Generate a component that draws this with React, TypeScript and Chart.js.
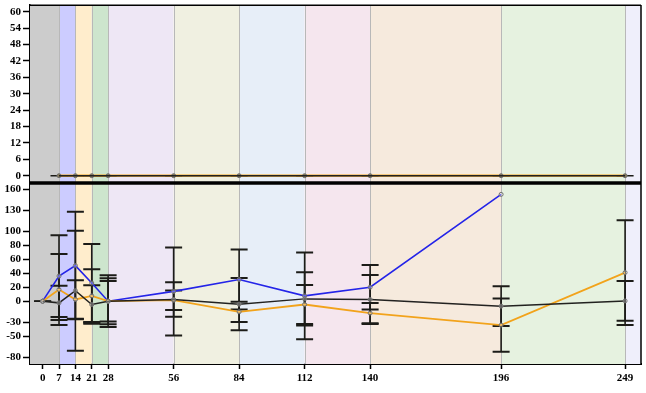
import React, { useEffect, useRef } from "react";
import { Chart, registerables } from "chart.js";

Chart.register(...registerables);

// ---- data ----
const days = [0, 7, 14, 21, 28, 56, 84, 112, 140, 196, 249];
const xTickValues = [0, 7, 14, 21, 28, 56, 84, 112, 140, 196, 249];

const topDays = [7, 14, 21, 28, 56, 84, 112, 140, 196, 249];
const topBlackVals = [0, 0, 0, 0, 0, 0, 0, 0, 0, 0];
const topBlackErr = [0, 0, 0, 0, 0, 0, 0, 0, 0, 0];
const topOrangeVals = [0, 0, 0, 0, 0, 0, 0, 0, 0, 0];

const blueVals = [0, 36, 51, 26, 0, 14, 31, 7.6, 20, 153, null];
const blueErr = [0, 58.5, 77, 56, 37, 63, 43, 62, 32, null, null];
const orangeVals = [0, 16.7, 2.4, 7.6, 0, 1.4, -15.2, -4.8, -17.1, -34.3, 41];
const orangeErr = [0, 51, 27.6, 38, 33, 14, 14.5, 28, 14.5, 38, 75];
const blackVals = [0, -2.4, 15, -4.8, 0, 2.4, -4.3, 3.3, 2.4, -7.1, 0.4];
const blackErr = [0, 24.5, 86, 27.7, 29, 24.7, 37.5, 38, 35, 28.5, 28.5];

const topYTicks = [0, 6, 12, 18, 24, 30, 36, 42, 48, 54, 60];
const bottomYTicks = [-80, -50, -30, 0, 20, 40, 60, 80, 100, 130, 160];

const bandEdges = [7, 14, 21, 28, 56, 84, 112, 140, 196, 249];
const bandColors = [
  "#cccccc",
  "#ccccff",
  "#ffedcc",
  "#cde5cd",
  "#eee7f5",
  "#f0f0e1",
  "#e7eef8",
  "#f5e6ee",
  "#f6eadd",
  "#e6f2e0",
  "#efeffb",
];

const toPts = (xs: number[], ys: (number | null)[]) =>
  xs.map((x, i) => ({ x, y: ys[i] }));

const panelPlugin = {
  id: "panels",
  beforeDatasetsDraw(chart: any) {
    const { ctx, chartArea, scales } = chart;
    const x = scales.x;
    const edges = [x.min, ...bandEdges, x.max];
    ctx.save();
    for (let i = 0; i < bandColors.length; i++) {
      const l = x.getPixelForValue(edges[i]);
      const r = x.getPixelForValue(edges[i + 1]);
      ctx.fillStyle = bandColors[i];
      ctx.fillRect(l, chartArea.top, r - l, chartArea.bottom - chartArea.top);
    }
    ctx.strokeStyle = "#b8b8b8";
    ctx.lineWidth = 1;
    for (const e of bandEdges) {
      const p = Math.round(x.getPixelForValue(e)) + 0.5;
      ctx.beginPath();
      ctx.moveTo(p, chartArea.top);
      ctx.lineTo(p, chartArea.bottom);
      ctx.stroke();
    }
    // error bars
    chart.data.datasets.forEach((ds: any) => {
      const errs = ds.errors;
      if (!errs) return;
      const ys = scales[ds.yAxisID];
      ctx.strokeStyle = "#1c1c18";
      ds.data.forEach((pt: any, j: number) => {
        const e = errs[j];
        if (e == null || pt.y == null) return;
        const px = x.getPixelForValue(pt.x);
        const hi = ys.getPixelForValue(pt.y + e);
        const lo = ys.getPixelForValue(pt.y - e);
        ctx.lineWidth = 1.6;
        ctx.beginPath();
        ctx.moveTo(px, hi);
        ctx.lineTo(px, lo);
        ctx.stroke();
        ctx.lineWidth = e === 0 ? 1.4 : 2;
        ctx.beginPath();
        ctx.moveTo(px - 8.5, hi);
        ctx.lineTo(px + 8.5, hi);
        ctx.moveTo(px - 8.5, lo);
        ctx.lineTo(px + 8.5, lo);
        ctx.stroke();
      });
    });
    ctx.restore();
  },
  afterDraw(chart: any) {
    const { ctx, chartArea, scales } = chart;
    const top = scales.yTop;
    ctx.save();
    ctx.strokeStyle = "#000";
    ctx.lineWidth = 1.5;
    ctx.beginPath();
    ctx.moveTo(chartArea.left, chartArea.top + 0.25);
    ctx.lineTo(chartArea.right, chartArea.top + 0.25);
    ctx.moveTo(chartArea.right, chartArea.top);
    ctx.lineTo(chartArea.right, chartArea.bottom);
    ctx.stroke();
    ctx.lineWidth = 3.5;
    ctx.beginPath();
    ctx.moveTo(chartArea.left, top.bottom + 0.5);
    ctx.lineTo(chartArea.right, top.bottom + 0.5);
    ctx.stroke();
    ctx.restore();
  },
};

const tickFont = { family: "'Liberation Serif', serif", size: 11, weight: "bold" as const };

const fitY = (s: any) => {
  s.width = 30;
  s.paddingTop = 0;
  s.paddingBottom = 0;
};
const fitX = (s: any) => {
  s.height = 29;
  s.paddingLeft = 0;
  s.paddingRight = 0;
};

export default function App() {
  const ref = useRef<HTMLCanvasElement>(null);
  useEffect(() => {
    if (!ref.current) return;
    const bottomPoint = {
      pointRadius: 2,
      pointBorderWidth: 1,
      pointBorderColor: "#707070",
      pointBackgroundColor: "rgba(255,255,255,0.3)",
    };
    const yGrid = {
      display: true,
      drawOnChartArea: false,
      drawTicks: true,
      tickLength: 7,
      tickColor: "#000",
      tickWidth: 1.5,
    };
    const chart = new Chart(ref.current, {
      type: "line",
      data: {
        datasets: [
          {
            label: "topBlack",
            yAxisID: "yTop",
            data: toPts(topDays, topBlackVals),
            borderColor: "#222",
            borderWidth: 1.5,
            pointRadius: 0,
            errors: topBlackErr,
          } as any,
          {
            label: "topOrange",
            yAxisID: "yTop",
            data: toPts(topDays, topOrangeVals),
            borderColor: "#f2a31b",
            borderWidth: 2.2,
            pointRadius: 2,
            pointBorderWidth: 1,
            pointBorderColor: "#6f6f6f",
            pointBackgroundColor: "#8a7d5a",
          },
          {
            label: "black",
            yAxisID: "yBot",
            data: toPts(days, blackVals),
            borderColor: "#222220",
            borderWidth: 1.5,
            errors: blackErr,
            ...bottomPoint,
          } as any,
          {
            label: "orange",
            yAxisID: "yBot",
            data: toPts(days, orangeVals),
            borderColor: "#f2a31b",
            borderWidth: 1.8,
            errors: orangeErr,
            ...bottomPoint,
          } as any,
          {
            label: "blue",
            yAxisID: "yBot",
            data: toPts(days, blueVals),
            borderColor: "#2424e8",
            borderWidth: 1.6,
            errors: blueErr,
            ...bottomPoint,
          } as any,
        ],
      },
      options: {
        animation: false,
        responsive: false,
        devicePixelRatio: 1,
        layout: { padding: { top: 2, right: 3, left: 0, bottom: 0 } },
        plugins: { legend: { display: false }, tooltip: { enabled: false } },
        elements: { line: { tension: 0 } },
        scales: {
          x: {
            type: "linear",
            position: "bottom",
            min: -5.4,
            max: 255.8,
            afterBuildTicks: (s: any) => {
              s.ticks = xTickValues.map((v) => ({ value: v }));
            },
            afterFit: fitX,
            ticks: {
              autoSkip: false,
              maxRotation: 0,
              color: "#000",
              font: tickFont,
              padding: 3,
            },
            grid: {
              display: true,
              drawOnChartArea: false,
              drawTicks: true,
              tickLength: 5,
              tickColor: "#000",
              tickWidth: 1.5,
            },
            border: { display: true, color: "#000", width: 2 },
          },
          yBot: {
            type: "linear",
            position: "left",
            stack: "v",
            stackWeight: 183,
            min: -90,
            max: 170,
            afterBuildTicks: (s: any) => {
              s.ticks = bottomYTicks.map((v) => ({ value: v }));
            },
            afterFit: fitY,
            ticks: { color: "#000", font: tickFont, padding: 2, autoSkip: false },
            grid: yGrid,
            border: { display: true, color: "#000", width: 1.5 },
          },
          yTop: {
            type: "linear",
            position: "left",
            stack: "v",
            stackWeight: 179,
            min: -2.5,
            max: 62.5,
            afterBuildTicks: (s: any) => {
              s.ticks = topYTicks.map((v) => ({ value: v }));
            },
            afterFit: fitY,
            ticks: { color: "#000", font: tickFont, padding: 2, autoSkip: false },
            grid: yGrid,
            border: { display: true, color: "#000", width: 1.5 },
          },
        } as any,
      },
      plugins: [panelPlugin],
    });
    return () => chart.destroy();
  }, []);
  return (
    <div style={{ position: "absolute", left: 0, top: 0, width: 646, height: 393, background: "#fff" }}>
      <canvas ref={ref} width={646} height={393} style={{ width: 646, height: 393, display: "block" }} />
    </div>
  );
}
